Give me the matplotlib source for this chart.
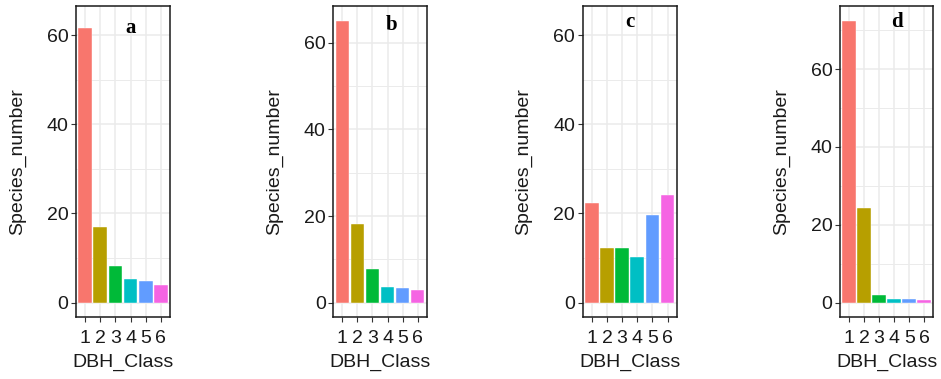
import matplotlib
matplotlib.use("Agg")
import matplotlib.pyplot as plt
from matplotlib.ticker import MultipleLocator

classes = ["1", "2", "3", "4", "5", "6"]
vals_a = [61.5, 17.0, 8.3, 5.4, 4.8, 4.0]
vals_b = [65.1, 18.2, 7.7, 3.6, 3.3, 3.0]
vals_c = [22.4, 12.3, 12.3, 10.2, 19.6, 24.1]
vals_d = [72.4, 24.4, 2.0, 1.0, 1.0, 0.6]
panel_labels = ["a", "b", "c", "d"]
colors = ["#F8766D", "#B79F00", "#00BA38", "#00BFC4", "#619CFF", "#F564E3"]

series = [vals_a, vals_b, vals_c, vals_d]
lefts = [76, 333.3, 582.7, 840]
widths = [94, 93.4, 94, 93.3]
ylims = [(-3.2, 66.5), (-3.3, 68.5), (-3.2, 66.5), (-3.7, 76.2)]
label_pos = [(4.0, 61.6), (4.28, 64.1), (3.52, 63.0), (4.17, 72.2)]

W, H = 941, 379
fig = plt.figure(figsize=(W / 100, H / 100), dpi=100)
plt.rcParams['font.family'] = ['Liberation Sans', 'DejaVu Sans']

top_px, bot_px = 6, 317
for i, vals in enumerate(series):
    ax = fig.add_axes([lefts[i] / W, 1 - bot_px / H, widths[i] / W, (bot_px - top_px) / H])
    x = list(range(1, len(classes) + 1))
    ax.bar(x, vals, width=0.9, color=colors, edgecolor="white", linewidth=0.3, zorder=3)
    ax.set_xlim(0.4, 6.6)
    ax.set_ylim(*ylims[i])
    ax.set_xticks(x)
    ax.set_xticklabels(classes)
    ax.yaxis.set_major_locator(MultipleLocator(20))
    ax.yaxis.set_minor_locator(MultipleLocator(10))
    ax.grid(True, which="major", color="#EBEBEB", linewidth=1.1, zorder=0)
    ax.grid(True, which="minor", axis="y", color="#EBEBEB", linewidth=0.7, zorder=0)
    ax.set_axisbelow(True)
    ax.tick_params(axis="both", which="major", length=3.5, width=0.8, color="#333333",
                   labelsize=14, labelcolor="#1a1a1a", pad=2)
    ax.tick_params(axis="x", which="major", pad=6)
    ax.tick_params(axis="y", which="minor", length=0)
    for s in ax.spines.values():
        s.set_color("#1a1a1a")
        s.set_linewidth(1.1)
    ax.set_ylabel("Species_number", fontsize=14, color="#1a1a1a", labelpad=15)
    ax.set_xlabel("DBH_Class", fontsize=14, color="#1a1a1a", labelpad=5)
    lx, ly = label_pos[i]
    ax.text(lx, ly, panel_labels[i], ha="center", va="center", fontsize=15,
            fontweight="bold", family=["Liberation Serif", "DejaVu Serif"], color="black", zorder=5)

fig.savefig("out.png", dpi=100)
